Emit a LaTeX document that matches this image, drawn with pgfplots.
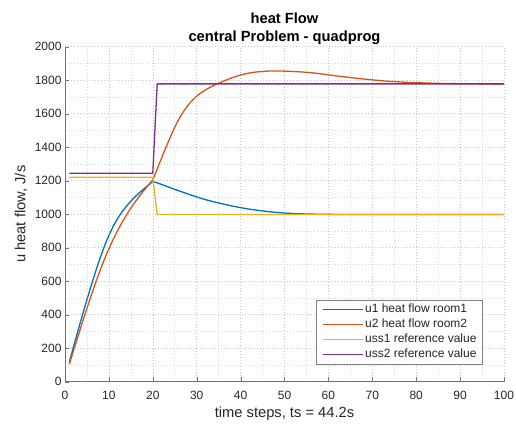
\documentclass[border=0pt]{standalone}
\usepackage{pgfplots}
\pgfplotsset{compat=1.18}
\usepackage{fontspec}
\setmainfont{Liberation Sans}
\definecolor{mblue}{rgb}{0,0.447,0.741}
\definecolor{morange}{rgb}{0.85,0.325,0.098}
\definecolor{myellow}{rgb}{0.929,0.694,0.125}
\definecolor{mpurple}{rgb}{0.494,0.184,0.556}
\begin{document}
\begin{tikzpicture}[x=1pt,y=1pt]
\useasboundingbox (-65,-45.3) rectangle (451,381.7);
\begin{axis}[
  at={(0,0)}, anchor=south west,
  scale only axis, width=439pt, height=335pt,
  xmin=0, xmax=100, ymin=0, ymax=2000,
  xtick distance=10, ytick distance=200,
  minor x tick num=1, minor y tick num=1,
  grid=both,
  major grid style={line width=0.6pt, dash pattern=on 0.6pt off 2.4pt, black!22},
  minor grid style={line width=0.6pt, dash pattern=on 0.6pt off 2.4pt, black!15},
  axis x line*=bottom, axis y line*=left,
  axis line style={-, black!55},
  tick style={black!55},
  major tick length=4.5pt, minor tick length=0pt,
  tick align=inside,
  /pgf/number format/assume math mode=true,
  /pgf/number format/1000 sep={},
  ticklabel style={font=\fontsize{12}{14}\selectfont, text=black!85},
  xticklabel style={yshift=-5.5pt},
  title={heat Flow\\central Problem - quadprog},
  title style={at={(axis description cs:0.5,1.026)}, anchor=south, yshift=-13pt, inner sep=0pt, align=center, font=\bfseries\fontsize{14.7}{18}\selectfont},
  xlabel={time steps, ts = 44.2s},
  xlabel style={at={(axis description cs:0.5,-0.1075)}, anchor=base, font=\fontsize{14.7}{17}\selectfont, text=black!85},
  ylabel={u heat flow, J/s},
  ylabel style={at={(axis description cs:-0.09,0.5)}, anchor=base, rotate=0, font=\fontsize{14.7}{17}\selectfont, text=black!85},
  legend cell align=left,
  legend style={at={(1,0)}, anchor=south east, xshift=-21.3pt, yshift=17.7pt,
    draw=black!50, fill=white, font=\fontsize{12}{14}\selectfont, text=black!85,
    inner xsep=5pt, inner ysep=2.2pt, row sep=0.5pt,
    nodes={inner sep=1pt, text height=9pt, text depth=3.5pt}},
  legend image code/.code={\draw[#1] (2pt,0pt) -- (42pt,0pt); \path (0pt,0pt);},
  legend image post style={line width=1.4pt},
]
\addplot[mblue, line width=1.3pt] coordinates {
(1,119)(2,214)(3,308)(4,400)(5,490)(6,577)(7,660)(8,738)(9,810)(10,874)
(11,929)(12,975)(13,1014)(14,1048)(15,1078)(16,1105)(17,1129)(18,1152)(19,1174)(20,1195)
(21,1187)(22,1178)(23,1168)(24,1158)(25,1148)(26,1139)(27,1130)(28,1121)(29,1112)(30,1103)
(31,1095)(32,1087)(33,1080)(34,1073)(35,1067)(36,1061)(37,1055)(38,1049)(39,1044)(40,1039)
(42,1030)(44,1023)(46,1016)(48,1011)(50,1007)(52,1004)(55,1001)(60,999)(65,998)(70,998)
(80,998)(90,998)(100,998)};
\addlegendentry{u1 heat flow room1}
\addplot[morange, line width=1.3pt] coordinates {
(1,105)(2,190)(3,274)(4,357)(5,438)(6,517)(7,593)(8,665)(9,732)(10,794)
(11,851)(12,903)(13,951)(14,995)(15,1036)(16,1074)(17,1109)(18,1142)(19,1174)(20,1205)
(21,1270)(22,1335)(23,1400)(24,1460)(25,1520)(26,1570)(27,1613)(28,1650)(29,1680)(30,1705)
(31,1725)(32,1742)(33,1757)(34,1770)(35,1782)(36,1793)(37,1804)(38,1814)(39,1823)(40,1831)
(41,1837)(42,1843)(43,1847)(44,1850)(45,1852)(46,1854)(47,1855)(48,1855)(49,1855)(50,1854)
(52,1852)(54,1849)(56,1845)(58,1839)(60,1832)(62,1825)(64,1819)(66,1813)(68,1807)(70,1802)
(72,1797)(74,1793)(76,1790)(78,1787)(80,1785)(85,1781)(90,1779)(95,1778)(100,1777)};
\addlegendentry{u2 heat flow room2}
\addplot[myellow, line width=1.3pt] coordinates {(1,1220)(20,1220)(21,998)(100,998)};
\addlegendentry{uss1 reference value}
\addplot[mpurple, line width=1.3pt] coordinates {(1,1245)(20,1245)(21,1778)(100,1778)};
\addlegendentry{uss2 reference value}
\end{axis}
\end{tikzpicture}
\end{document}
